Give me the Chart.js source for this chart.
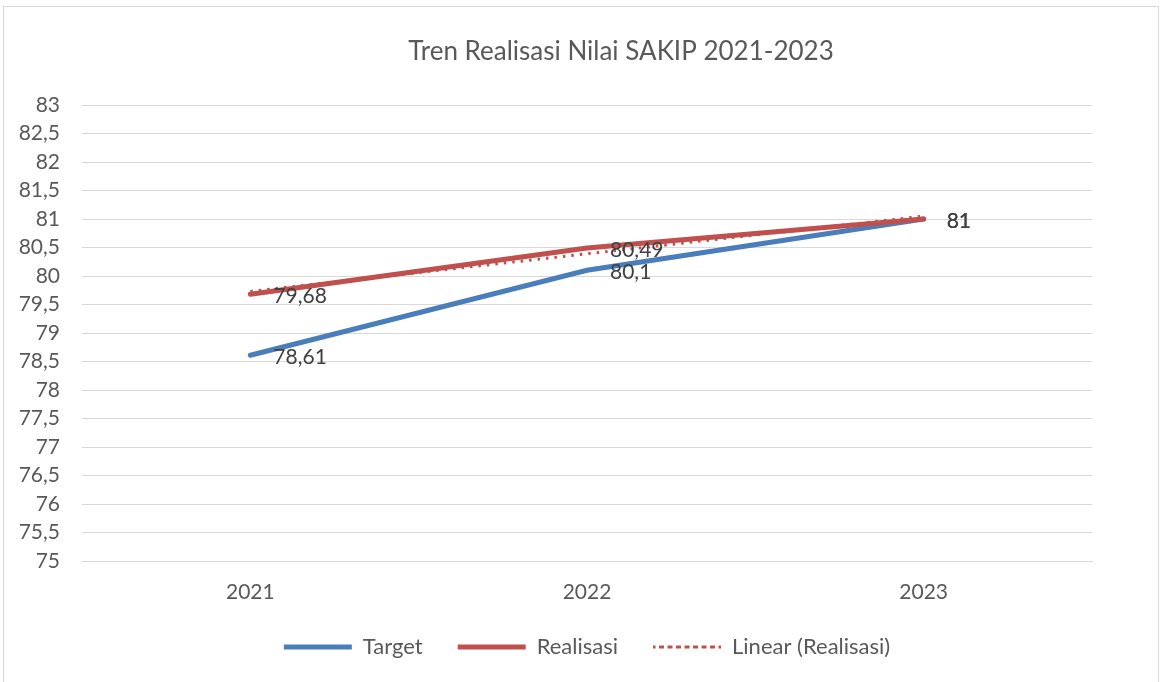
<!DOCTYPE html>
<html>
<head>
<meta charset="utf-8">
<script src="https://cdn.jsdelivr.net/npm/chart.js@4/dist/chart.umd.min.js"></script>
<style>
html, body { margin: 0; padding: 0; background: #fff; overflow: hidden; }
#frame { position: absolute; left: 3px; top: 6px; width: 1154px; height: 700px; border: 1px solid #d9d9d9; }
#myChart { position: absolute; left: 0; top: 0; }
</style>
</head>
<body>
<div id="frame"></div>
<canvas id="myChart" width="1161" height="682"></canvas>
<script>
const years = ['2021', '2022', '2023'];
const target = [78.61, 80.1, 81];
const realisasi = [79.68, 80.49, 81];
const linearRealisasi = [79.73, 80.39, 81.05];

const titleText = 'Tren Realisasi Nilai SAKIP 2021-2023';
const fontFamily = 'Lato, "Noto Sans", sans-serif';

const ctx = document.getElementById('myChart').getContext('2d');

function fmt(v) {
    return String(v).replace('.', ',');
}

// title drawn a bit right of centre like the original
const titlePlugin = {
    id: 'titlePlugin',
    afterDraw(chart) {
        const c = chart.ctx;
        c.save();
        c.font = '26px ' + fontFamily;
        c.fillStyle = '#595959';
        c.textAlign = 'center';
        c.textBaseline = 'middle';
        c.fillText(titleText, 621, 52);
        c.restore();
    }
};

// value labels to the right of each point
const valueLabels = {
    id: 'valueLabels',
    afterDatasetsDraw(chart) {
        const c = chart.ctx;
        c.save();
        c.font = '21px ' + fontFamily;
        c.fillStyle = '#404040';
        c.textAlign = 'left';
        c.textBaseline = 'middle';
        chart.data.datasets.forEach((ds, i) => {
            if (!ds.showLabels) return;
            const meta = chart.getDatasetMeta(i);
            meta.data.forEach((pt, j) => {
                c.fillText(fmt(ds.data[j]), pt.x + 23, pt.y + 2);
            });
        });
        c.restore();
    }
};

// legend is centred under the plot area, not the whole canvas
const legendShift = {
    id: 'legendShift',
    afterLayout(chart) {
        const lg = chart.legend;
        const dx = (chart.chartArea.left + chart.chartArea.right) / 2 - (lg.left + lg.right) / 2;
        lg.left += dx;
        lg.right += dx;
    }
};

new Chart(ctx, {
    type: 'line',
    data: {
        labels: years,
        datasets: [
            {
                label: 'Target',
                data: target,
                borderColor: '#4a7ebb',
                backgroundColor: '#4a7ebb',
                borderWidth: 5,
                borderCapStyle: 'round',
                pointRadius: 0,
                tension: 0,
                order: 3,
                showLabels: true
            },
            {
                label: 'Realisasi',
                data: realisasi,
                borderColor: '#c0504d',
                backgroundColor: '#c0504d',
                borderWidth: 5,
                borderCapStyle: 'round',
                pointRadius: 0,
                tension: 0,
                order: 2,
                showLabels: true
            },
            {
                label: 'Linear (Realisasi)',
                data: linearRealisasi,
                borderColor: '#c0504d',
                backgroundColor: '#c0504d',
                borderWidth: 3,
                borderDash: [2.5, 6],
                pointRadius: 0,
                tension: 0,
                order: 1,
                showLabels: false
            }
        ]
    },
    options: {
        responsive: false,
        animation: false,
        layout: {
            padding: { top: 105, right: 69, left: 0, bottom: 14 }
        },
        plugins: {
            title: { display: false },
            tooltip: { enabled: false },
            legend: {
                position: 'bottom',
                labels: {
                    boxWidth: 68,
                    boxHeight: 0,
                    padding: 35,
                    color: '#595959',
                    font: { size: 22, family: fontFamily },
                    sort: (a, b) => a.datasetIndex - b.datasetIndex
                }
            }
        },
        scales: {
            x: {
                offset: true,
                grid: { display: false, drawTicks: false },
                border: { display: true, color: '#d9d9d9' },
                ticks: {
                    color: '#595959',
                    font: { size: 21, family: fontFamily },
                    padding: 19
                },
                afterFit(scale) { scale.height = 40; }
            },
            y: {
                min: 75,
                max: 83,
                grid: { color: '#d9d9d9', lineWidth: 1, drawTicks: false },
                border: { display: false },
                ticks: {
                    stepSize: 0.5,
                    color: '#595959',
                    font: { size: 21, family: fontFamily },
                    padding: 22,
                    callback: v => fmt(v)
                },
                afterFit(scale) { scale.width = 82; }
            }
        }
    },
    plugins: [titlePlugin, valueLabels, legendShift]
});
</script>
</body>
</html>
